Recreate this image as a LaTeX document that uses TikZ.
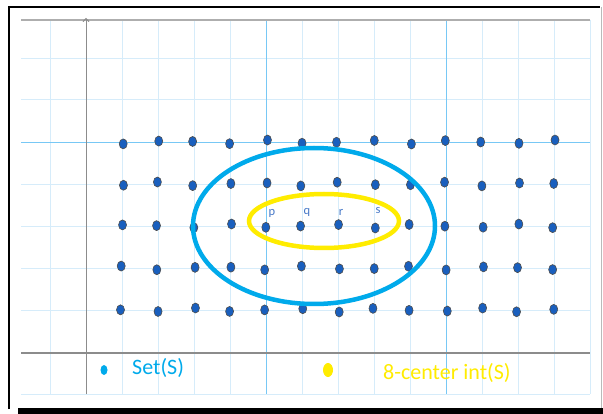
\documentclass[tikz,border=0pt]{standalone}
\usepackage{fontspec}
\setmainfont{Carlito}
\usetikzlibrary{arrows.meta,shapes.geometric}
\definecolor{gridblue}{RGB}{214,236,250}
\definecolor{mainblue}{RGB}{120,200,245}
\definecolor{axisgray}{RGB}{140,140,140}
\definecolor{dotblue}{RGB}{25,95,190}
\definecolor{setcyan}{RGB}{0,170,235}
\definecolor{intyellow}{RGB}{255,236,0}
\definecolor{labblue}{RGB}{70,120,200}
\begin{document}
\begin{tikzpicture}[x=1pt,y=-1pt,
  pt/.style={draw=black!70,fill=dotblue,ellipse,minimum width=8pt,minimum height=10pt,inner sep=0pt,line width=0.6pt},
  lab/.style={font=\fontsize{12.5}{14}\selectfont,text=labblue,inner sep=0pt},
  legend/.style={font=\fontsize{22}{24}\selectfont,inner sep=0pt,anchor=west}]
\useasboundingbox (0,0) rectangle (603,414);
\fill[white] (0,0) rectangle (603,414);
% grid
\foreach \gx in {50,86,...,590}
  \draw[gridblue,line width=0.8pt] (\gx,20) -- (\gx,394);
\foreach \gy in {58,99,142,184,226,268,310,353,394}
  \draw[gridblue,line width=0.8pt] (21,\gy) -- (590,\gy);
\draw[mainblue,line width=0.7pt] (266,20) -- (266,394);
\draw[mainblue,line width=0.7pt] (446,20) -- (446,394);
\draw[mainblue,line width=0.7pt] (21,142) -- (590,142);
\draw[axisgray!70,line width=1.6pt] (21,20) -- (590,20);
% axes
\coordinate (yb) at (86,394);
\coordinate (yt) at (86,18);
\coordinate (xl) at (21,353);
\coordinate (xr) at (590,353);
\draw[axisgray,line width=0.9pt,-{Straight Barb[length=3pt]}] (yb) -- (yt);
\draw[axisgray,line width=1.2pt] (xl) -- (xr);
% frame
\draw[black,line width=1.5pt] (9,409) -- (9,7) -- (600,7);
\draw[axisgray!60,line width=1pt] (601,7) -- (601,409);
\fill[black] (18,408) rectangle (603,414);
% points of S
\foreach \r/\y in {1/142,2/184,3/226,4/268,5/310}
  \foreach \c in {0,...,12}{
    \pgfmathsetmacro{\jx}{1.5*sin(97*\c+53*\r)}
    \pgfmathsetmacro{\jy}{2*sin(137*\c+71*\r)}
    \node[pt] (d-\r-\c) at (122+36*\c+\jx,\y+\jy) {};
  }
% the two ellipses
\draw[setcyan,line width=4.5pt] (314,226) ellipse [x radius=121,y radius=78];
\draw[intyellow,line width=4.5pt] (324,221) ellipse [x radius=75,y radius=27];
% labels
\node[lab] (lp) at (272,213) {p};
\node[lab] (lq) at (307,212) {q};
\node[lab] (lr) at (341,212) {r};
\node[lab] (ls) at (378,211) {s};
% legend
\fill[setcyan] (104,370) ellipse [x radius=3.5,y radius=5];
\node[legend,text=setcyan] (lset) at (132,368) {Set(S)};
\fill[intyellow] (328,370) ellipse [x radius=5,y radius=7];
\node[legend,text=intyellow] (lint) at (383,373) {8-center int(S)};
\end{tikzpicture}
\end{document}
